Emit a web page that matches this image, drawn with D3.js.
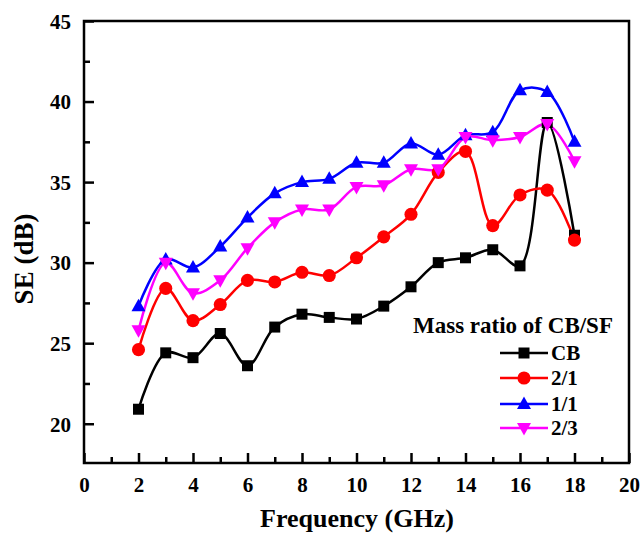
<!DOCTYPE html>
<html>
<head>
<meta charset="utf-8">
<script src="https://cdn.jsdelivr.net/npm/d3@7"></script>
<style>
  html, body { margin: 0; padding: 0; background: #fff; }
  svg { display: block; }
  text { font-family: "Liberation Serif", "Times New Roman", serif; font-weight: bold; fill: #000; }
</style>
</head>
<body>
<svg id="chart" width="642" height="539"></svg>
<script>
// Frequency points (GHz)
const frequency = [2, 3, 4, 5, 6, 7, 8, 9, 10, 11, 12, 13, 14, 15, 16, 17, 18];

// Shielding effectiveness (dB) for each CB/SF mass ratio
const seCB  = [20.9, 24.4, 24.1, 25.6, 23.6, 26.0, 26.8, 26.6, 26.5, 27.3, 28.5, 30.0, 30.3, 30.8, 29.8, 38.7, 31.7];
const se21  = [24.6, 28.4, 26.4, 27.4, 28.9, 28.8, 29.4, 29.2, 30.3, 31.6, 33.0, 35.6, 36.9, 32.3, 34.2, 34.5, 31.4];
const se11  = [27.3, 30.2, 29.7, 31.0, 32.8, 34.3, 35.0, 35.2, 36.2, 36.2, 37.4, 36.7, 37.9, 38.1, 40.7, 40.6, 37.5];
const se23  = [25.8, 30.0, 28.1, 28.9, 30.9, 32.5, 33.3, 33.3, 34.7, 34.8, 35.8, 35.8, 37.8, 37.6, 37.8, 38.6, 36.3];

const seriesNames  = ["CB", "2/1", "1/1", "2/3"];
const seriesColors = ["#000000", "#ff0000", "#0000ff", "#ff00ff"];
const seriesShapes = ["square", "circle", "triangleUp", "triangleDown"];

const xTicks = [0, 2, 4, 6, 8, 10, 12, 14, 16, 18, 20];
const yTicks = [20, 25, 30, 35, 40, 45];

const FONT = "'Liberation Serif', 'Times New Roman', serif";

const svg = d3.select("#chart");
const M = { left: 84, right: 629, top: 21, bottom: 463 };

const x = d3.scaleLinear().domain([0, 20]).range([M.left, M.right]);
const y = d3.scaleLinear().domain([17.5, 45]).range([M.bottom + 1, M.top]);

const seriesData = [seCB, se21, se11, se23].map((vals, i) => ({
  name: seriesNames[i],
  color: seriesColors[i],
  shape: seriesShapes[i],
  points: frequency.map((f, j) => [f, vals[j]])
}));

// Marker path generator centred on (0,0)
function markerPath(shape) {
  switch (shape) {
    case "square": return "M-5.5,-5.5H5.5V5.5H-5.5Z";
    case "circle": return d3.symbol(d3.symbolCircle, 135)();
    case "triangleUp": return "M0,-7.5L7,5L-7,5Z";
    case "triangleDown": return "M0,7.5L7,-5L-7,-5Z";
  }
}

// Axes (ticks point inward)
const minorX = d3.range(1, 20, 2);
const minorY = [22.5, 27.5, 32.5, 37.5, 42.5];

const axisX = d3.axisBottom(x).tickValues(xTicks).tickSizeInner(-10).tickSizeOuter(0).tickPadding(14).tickFormat(d3.format("d"));
const axisY = d3.axisLeft(y).tickValues(yTicks).tickSizeInner(-10).tickSizeOuter(0).tickPadding(13).tickFormat(d3.format("d"));

const gx = svg.append("g").attr("transform", `translate(0,${M.bottom})`).call(axisX);
const gy = svg.append("g").attr("transform", `translate(${M.left},0)`).call(axisY);

svg.append("g").attr("transform", `translate(0,${M.bottom})`)
  .call(d3.axisBottom(x).tickValues(minorX).tickSizeInner(-6).tickSizeOuter(0).tickFormat(""));
svg.append("g").attr("transform", `translate(${M.left},0)`)
  .call(d3.axisLeft(y).tickValues(minorY).tickSizeInner(-6).tickSizeOuter(0).tickFormat(""));

svg.selectAll(".domain").remove();
svg.selectAll("g").attr("font-family", null).attr("font-size", null);
svg.selectAll(".tick line").attr("stroke", "#000").attr("stroke-width", 2.5);
[gx, gy].forEach(g => g.selectAll(".tick text")
  .style("font-size", "21px").style("font-family", FONT).style("font-weight", "bold"));
gy.selectAll(".tick text").attr("dy", "0.35em");

// Plot frame
svg.append("rect")
  .attr("x", M.left).attr("y", M.top)
  .attr("width", M.right - M.left).attr("height", M.bottom - M.top)
  .attr("fill", "none").attr("stroke", "#000").attr("stroke-width", 2.5);

// Series lines and markers
const line = d3.line()
  .x(d => x(d[0])).y(d => y(d[1]))
  .curve(d3.curveCatmullRom.alpha(0.5));

const plot = svg.append("g");
seriesData.forEach(s => {
  plot.append("path")
    .attr("d", line(s.points))
    .attr("fill", "none").attr("stroke", s.color).attr("stroke-width", 2.5);
});
seriesData.forEach(s => {
  plot.append("g").selectAll("path")
    .data(s.points).join("path")
    .attr("transform", d => `translate(${x(d[0])},${y(d[1])})`)
    .attr("d", markerPath(s.shape))
    .attr("fill", s.color);
});

// Axis titles
svg.append("text")
  .attr("x", 357).attr("y", 527)
  .attr("text-anchor", "middle")
  .style("font-family", FONT)
  .style("font-size", "26px")
  .text("Frequency (GHz)");

svg.append("text")
  .attr("transform", "translate(33,259) rotate(-90)")
  .attr("text-anchor", "middle")
  .style("font-family", FONT)
  .style("font-size", "27px")
  .text("SE (dB)");

// Legend
const legend = svg.append("g");
legend.append("text")
  .attr("x", 413).attr("y", 333)
  .style("font-family", FONT)
  .style("font-size", "23px")
  .text("Mass ratio of CB/SF");

const legendY = [353, 378, 404, 428];
seriesData.forEach((s, i) => {
  const g = legend.append("g").attr("transform", `translate(0,${legendY[i]})`);
  g.append("line").attr("x1", 500).attr("x2", 548).attr("y1", 0).attr("y2", 0)
    .attr("stroke", s.color).attr("stroke-width", 2.5);
  g.append("path").attr("transform", "translate(524,0)").attr("d", markerPath(s.shape)).attr("fill", s.color);
  g.append("text").attr("x", 551).attr("y", 0).attr("dy", "0.35em")
    .style("font-family", FONT)
    .style("font-size", "21px").text(s.name);
});
</script>
</body>
</html>
